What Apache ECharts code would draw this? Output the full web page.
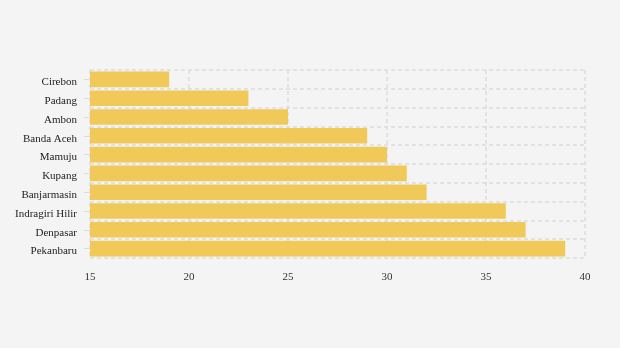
<!DOCTYPE html>
<html><head><meta charset="utf-8">
<script src="https://cdn.jsdelivr.net/npm/echarts@6/dist/echarts.min.js"></script>
<style>html,body{margin:0;padding:0;background:#f4f4f4;}#c{width:620px;height:348px;}</style>
</head><body><div id="c"></div>
<script>
const categories = ["Cirebon","Padang","Ambon","Banda Aceh","Mamuju","Kupang","Banjarmasin","Indragiri Hilir","Denpasar","Pekanbaru"];
const values = [19,23,25,29,30,31,32,36,37,39];
const xTicks = [15,20,25,30,35,40];

const chart = echarts.init(document.getElementById('c'));
chart.setOption({
  backgroundColor: '#f4f4f4',
  animation: false,
  grid: {left: 90, right: 35, top: 70, bottom: 90},
  xAxis: {
    type: 'value', min: xTicks[0], max: xTicks[xTicks.length-1], interval: 5,
    axisLine: {show: false}, axisTick: {show: false},
    axisLabel: {color: '#333', fontFamily: 'Liberation Serif', fontSize: 11, margin: 14},
    splitLine: {show: true, lineStyle: {color: '#dcdcdc', width: 1.5, type: [4, 3]}}
  },
  yAxis: {
    type: 'category', data: categories, inverse: true,
    axisLine: {show: false},
    axisTick: {show: true, alignWithLabel: true, length: 6, lineStyle: {color: '#dcdcdc'}},
    axisLabel: {color: '#222', fontFamily: 'Liberation Serif', fontSize: 11, margin: 13,
      verticalAlign: 'top', lineHeight: 6},
    splitLine: {show: true, lineStyle: {color: '#dcdcdc', width: 1.5, type: [4, 3]}}
  },
  series: [{
    type: 'bar', data: values, barCategoryGap: '17%',
    itemStyle: {color: '#f0c64f', opacity: 0.95}
  }]
});
</script></body></html>
